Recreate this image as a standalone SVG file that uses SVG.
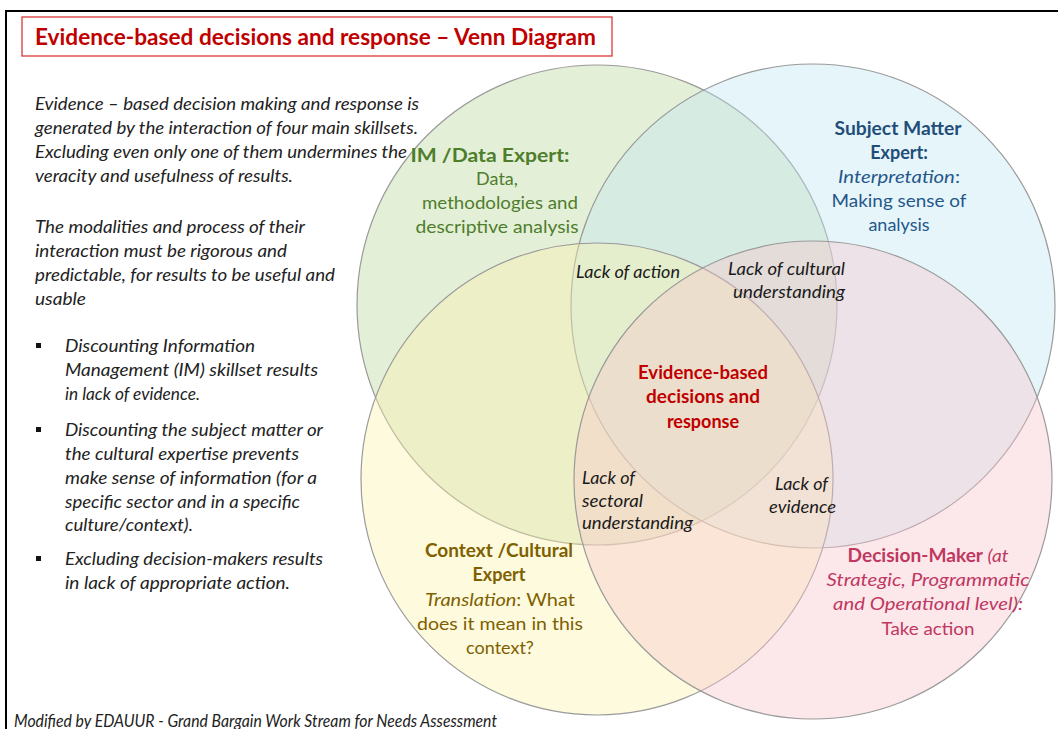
<svg xmlns="http://www.w3.org/2000/svg" width="1058" height="729" viewBox="0 0 1058 729">
<style>
  .body{font-family:Lato,"Open Sans","Liberation Sans",sans-serif;font-style:italic;font-size:17px;fill:#222;}
  .lbl{font-family:Lato,"Open Sans","Liberation Sans",sans-serif;font-size:18px;text-anchor:middle;}
  .lack{font-family:Lato,"Open Sans","Liberation Sans",sans-serif;font-style:italic;font-size:17px;fill:#1a1a1a;}
  .b{font-weight:bold;}
  .i{font-style:italic;}
  .circ{stroke:#9a9a9a;stroke-width:1.2;fill-opacity:0.4;}
</style>
<rect x="0" y="0" width="1058" height="729" fill="#ffffff"/>
<rect x="6" y="11" width="1100" height="800" fill="none" stroke="#000" stroke-width="2"/>

<g id="title">
  <rect x="22" y="17" width="590" height="39" fill="#fff" stroke="#d9383a" stroke-width="1.3"/>
  <text x="35" y="45" font-family="Lato,'Open Sans','Liberation Sans',sans-serif" font-size="22" font-weight="bold" fill="#c00000" textLength="561" lengthAdjust="spacingAndGlyphs">Evidence-based decisions and response – Venn Diagram</text>
</g>

<g id="circles">
  <circle id="c-im" class="circ" cx="597" cy="305" r="240" fill="#bcd69a"/>
  <circle id="c-sme" class="circ" cx="813" cy="306" r="242" fill="#c0e6f2"/>
  <circle id="c-ctx" class="circ" cx="597" cy="479" r="236" fill="#fbf2ad"/>
  <circle id="c-dm" class="circ" cx="813" cy="480" r="239" fill="#f7c6cd" fill-opacity="0.5"/>
</g>

<g id="intro">
  <text class="body" x="35" y="110" textLength="384" lengthAdjust="spacingAndGlyphs">Evidence – based decision making and response is</text>
  <text class="body" x="35" y="134" textLength="383" lengthAdjust="spacingAndGlyphs">generated by the interaction of four main skillsets.</text>
  <text class="body" x="35" y="158" textLength="372" lengthAdjust="spacingAndGlyphs">Excluding even only one of them undermines the</text>
  <text class="body" x="35" y="182" textLength="258" lengthAdjust="spacingAndGlyphs">veracity and usefulness of results.</text>
  <text class="body" x="35" y="233" textLength="270" lengthAdjust="spacingAndGlyphs">The modalities and process of their</text>
  <text class="body" x="35" y="257" textLength="252" lengthAdjust="spacingAndGlyphs">interaction must be rigorous and</text>
  <text class="body" x="35" y="281" textLength="300" lengthAdjust="spacingAndGlyphs">predictable, for results to be useful and</text>
  <text class="body" x="35" y="305" textLength="51" lengthAdjust="spacingAndGlyphs">usable</text>
</g>

<g id="bullets">
  <rect x="36" y="343" width="5" height="5" fill="#111"/>
  <text class="body" x="65" y="352" textLength="190" lengthAdjust="spacingAndGlyphs">Discounting Information</text>
  <text class="body" x="65" y="376" textLength="253" lengthAdjust="spacingAndGlyphs">Management (IM) skillset results</text>
  <text class="body" x="65" y="400" textLength="135" lengthAdjust="spacingAndGlyphs">in lack of evidence.</text>
  <rect x="36" y="427" width="5" height="5" fill="#111"/>
  <text class="body" x="65" y="436" textLength="258" lengthAdjust="spacingAndGlyphs">Discounting the subject matter or</text>
  <text class="body" x="65" y="460" textLength="234" lengthAdjust="spacingAndGlyphs">the cultural expertise prevents</text>
  <text class="body" x="65" y="484" textLength="252" lengthAdjust="spacingAndGlyphs">make sense of information (for a</text>
  <text class="body" x="65" y="508" textLength="235" lengthAdjust="spacingAndGlyphs">specific sector and in a specific</text>
  <text class="body" x="65" y="531" textLength="128" lengthAdjust="spacingAndGlyphs">culture/context).</text>
  <rect x="36" y="556" width="5" height="5" fill="#111"/>
  <text class="body" x="65" y="565" textLength="258" lengthAdjust="spacingAndGlyphs">Excluding decision-makers results</text>
  <text class="body" x="65" y="589" textLength="225" lengthAdjust="spacingAndGlyphs">in lack of appropriate action.</text>
</g>

<g id="node-im" fill="#4e7d2c">
  <text class="lbl b" x="490" y="162" textLength="159" lengthAdjust="spacingAndGlyphs">IM /Data Expert:</text>
  <text class="lbl" x="497" y="185">Data,</text>
  <text class="lbl" x="500" y="209" textLength="156" lengthAdjust="spacingAndGlyphs">methodologies and</text>
  <text class="lbl" x="497" y="233" textLength="163" lengthAdjust="spacingAndGlyphs">descriptive analysis</text>
</g>

<g id="node-sme" fill="#24578a">
  <text class="lbl b" x="898" y="135" fill="#1f4e79" textLength="127" lengthAdjust="spacingAndGlyphs">Subject Matter</text>
  <text class="lbl b" x="899" y="159" fill="#1f4e79">Expert:</text>
  <text class="lbl" x="899" y="183" textLength="122" lengthAdjust="spacingAndGlyphs"><tspan class="i">Interpretation</tspan>:</text>
  <text class="lbl" x="899" y="207" textLength="135" lengthAdjust="spacingAndGlyphs">Making sense of</text>
  <text class="lbl" x="899" y="231">analysis</text>
</g>

<g id="node-ctx" fill="#7f6000">
  <text class="lbl b" x="499" y="557" textLength="148" lengthAdjust="spacingAndGlyphs">Context /Cultural</text>
  <text class="lbl b" x="499" y="581">Expert</text>
  <text class="lbl" x="500" y="606" textLength="150" lengthAdjust="spacingAndGlyphs"><tspan class="i">Translation</tspan>:  What</text>
  <text class="lbl" x="500" y="630" textLength="166" lengthAdjust="spacingAndGlyphs">does it mean in this</text>
  <text class="lbl" x="500" y="654">context?</text>
</g>

<g id="node-dm" fill="#c0375f">
  <text class="lbl" x="928" y="562" textLength="161" lengthAdjust="spacingAndGlyphs"><tspan class="b">Decision-Maker</tspan><tspan class="i"> (at</tspan></text>
  <text class="lbl i" x="928" y="586" textLength="203" lengthAdjust="spacingAndGlyphs">Strategic, Programmatic</text>
  <text class="lbl i" x="928" y="610" textLength="190" lengthAdjust="spacingAndGlyphs">and Operational level):</text>
  <text class="lbl" x="928" y="635" textLength="93" lengthAdjust="spacingAndGlyphs">Take action</text>
</g>

<g id="node-center" fill="#c00000">
  <text class="lbl b" x="703" y="379" textLength="130" lengthAdjust="spacingAndGlyphs">Evidence-based</text>
  <text class="lbl b" x="703" y="403" textLength="114" lengthAdjust="spacingAndGlyphs">decisions and</text>
  <text class="lbl b" x="703" y="428">response</text>
</g>

<g id="overlaps">
  <text class="lack" x="576" y="278" textLength="104" lengthAdjust="spacingAndGlyphs">Lack of action</text>
  <text class="lack" x="728" y="275" textLength="117" lengthAdjust="spacingAndGlyphs">Lack of cultural</text>
  <text class="lack" x="733" y="298" textLength="112" lengthAdjust="spacingAndGlyphs">understanding</text>
  <text class="lack" x="582" y="484" textLength="53" lengthAdjust="spacingAndGlyphs">Lack of</text>
  <text class="lack" x="582" y="507" textLength="61" lengthAdjust="spacingAndGlyphs">sectoral</text>
  <text class="lack" x="582" y="529" textLength="111" lengthAdjust="spacingAndGlyphs">understanding</text>
  <text class="lack" x="775" y="490" textLength="53" lengthAdjust="spacingAndGlyphs">Lack of</text>
  <text class="lack" x="769" y="513" textLength="67" lengthAdjust="spacingAndGlyphs">evidence</text>
</g>

<g id="footer">
  <text class="body" x="14" y="727" font-size="15" fill="#111" textLength="483" lengthAdjust="spacingAndGlyphs">Modified by EDAUUR - Grand Bargain Work Stream for Needs Assessment</text>
</g>
</svg>
